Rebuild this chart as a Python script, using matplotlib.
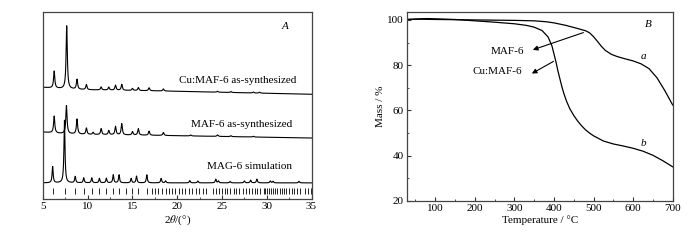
import matplotlib
matplotlib.use("Agg")
import matplotlib.pyplot as plt
import matplotlib.ticker as tkr
import numpy as np

plt.rcParams['font.family'] = ['Liberation Serif', 'DejaVu Serif']
plt.rcParams['mathtext.fontset'] = 'stix'
plt.rcParams['font.size'] = 8

# ---- panel A: XRD patterns (intensity in % of axis height) ----
sim_pos = [6.08, 7.40, 8.60, 9.55, 10.45, 11.30, 12.08, 12.85, 13.50, 14.85, 15.45, 16.60,
           18.20, 18.70, 21.40, 22.30, 24.30, 24.60, 25.90, 27.50, 28.20, 28.90, 30.40, 30.70, 33.60]
sim_int = [8.7, 33.5, 3.4, 2.7, 2.7, 2.4, 2.5, 4.3, 4.3, 2.4, 3.6, 4.3,
           2.4, 1.0, 1.2, 1.0, 2.0, 1.0, 0.8, 1.0, 1.5, 2.0, 1.0, 0.8, 0.8]
sim_base_x = [5, 35]
sim_base_y = [8.6, 8.6]

maf_pos = [6.25, 7.62, 8.80, 9.85, 10.60, 11.50, 12.35, 13.10, 13.80, 15.00, 15.65, 16.85,
           18.45, 21.50, 24.50, 26.00, 28.50]
maf_int = [9.0, 15.0, 8.0, 3.4, 1.2, 3.2, 2.2, 4.5, 6.0, 1.8, 3.4, 2.2,
           1.6, 0.5, 0.8, 0.5, 0.4]
maf_base_x = [5, 7, 10, 18, 35]
maf_base_y = [35.8, 35.0, 34.5, 34.0, 32.6]

cu_pos = [6.25, 7.65, 8.80, 9.85, 11.50, 12.35, 13.10, 13.80, 15.00, 15.65, 16.85, 18.45,
          24.50, 26.00, 28.50, 29.20]
cu_int = [9.1, 33.7, 5.3, 2.7, 1.6, 1.6, 2.7, 3.2, 1.1, 1.6, 1.6, 1.1,
          0.5, 0.5, 0.5, 0.5]
cu_base_x = [5, 7, 10, 18, 35]
cu_base_y = [59.7, 59.0, 58.4, 57.8, 56.0]

# reflection positions (tick row under the simulation)
refl_pos = [6.08, 7.42, 8.60, 9.53, 10.46, 11.28, 12.06, 12.77, 13.51, 14.25, 15.00, 15.66,
            16.59, 17.15, 17.52, 17.89, 18.26, 18.71, 19.08, 19.38, 19.80, 20.15, 20.55, 20.90,
            21.35, 21.70, 22.05, 22.45, 22.85, 23.20, 24.00, 24.30, 24.62, 24.95, 25.30, 25.60,
            25.95, 26.30, 26.60, 26.95, 27.30, 27.65, 28.00, 28.30, 28.65, 28.95, 29.20, 29.65,
            29.85, 30.05, 30.30, 30.50, 30.75, 30.95, 31.20, 31.45, 31.70, 31.95, 32.20, 32.50,
            32.80, 33.10, 33.40, 33.75, 34.30, 34.60, 34.90]

# ---- panel B: TGA ----
temp_a = [28, 60, 100, 150, 200, 250, 300, 350, 380, 400, 430, 460, 480, 490, 500, 510, 520,
          530, 545, 560, 580, 600, 620, 640, 660, 680, 700]
mass_a = [100.2, 100.3, 100.2, 100.1, 100.0, 99.9, 99.8, 99.6, 99.2, 98.7, 97.6, 96.2, 95.2,
          94.3, 92.6, 90.5, 88.3, 86.5, 84.8, 83.8, 82.8, 81.9, 80.6, 78.5, 74.5, 68.8, 62.4]
temp_b = [28, 60, 80, 100, 150, 200, 250, 300, 330, 350, 370, 385, 395, 405, 410, 415, 420,
          425, 432, 440, 450, 460, 470, 480, 490, 500, 525, 550, 575, 600, 625, 650, 675, 700]
mass_b = [100.2, 100.5, 100.6, 100.5, 100.2, 99.6, 99.0, 98.3, 97.6, 96.8, 95.3, 92.5, 88.5,
          81.5, 77.5, 74.0, 70.5, 67.5, 64.0, 60.8, 57.8, 55.3, 53.2, 51.4, 50.0, 48.8, 46.5,
          45.2, 44.3, 43.3, 42.0, 40.2, 37.8, 35.1]


def pattern(x, pos, inten, bx, by, width):
    y = np.interp(x, bx, by)
    for p, h in zip(pos, inten):
        y = y + h / (1 + ((x - p) / (width / 2)) ** 2)
    return y


def style_axes(ax):
    for s in ax.spines.values():
        s.set_color('#444444')
        s.set_linewidth(0.9)
    ax.tick_params(which='both', direction='in', color='#333333', labelsize=8, pad=2)
    ax.tick_params(which='major', length=3)
    ax.tick_params(which='minor', length=1.5)


fig = plt.figure(figsize=(7, 2.4), dpi=100)
axA = fig.add_axes([0.0614, 0.171, 0.3836, 0.779])
axB = fig.add_axes([0.581, 0.1625, 0.380, 0.7875])

xx = np.linspace(5, 35, 3000)
axA.plot(xx, pattern(xx, sim_pos, sim_int, sim_base_x, sim_base_y, 0.14), color='black', lw=0.8)
axA.plot(xx, pattern(xx, maf_pos, maf_int, maf_base_x, maf_base_y, 0.16), color='black', lw=0.8)
axA.plot(xx, pattern(xx, cu_pos, cu_int, cu_base_x, cu_base_y, 0.16), color='black', lw=0.8)
axA.vlines(refl_pos, 2.7, 5.9, color='black', lw=0.6)
axA.set_xlim(5, 35)
axA.set_ylim(0, 100)
axA.set_yticks([])
axA.xaxis.set_major_locator(tkr.MultipleLocator(5))
axA.xaxis.set_minor_locator(tkr.MultipleLocator(2.5))
style_axes(axA)
axA.set_xlabel(r'2$\it{\theta}$/(°)', fontsize=8, labelpad=2)
axA.text(33.3, 63.6, 'Cu:MAF-6 as-synthesized', ha='right', va='center', fontsize=8)
axA.text(32.8, 39.6, 'MAF-6 as-synthesized', ha='right', va='center', fontsize=8)
axA.text(32.8, 17.1, 'MAG-6 simulation', ha='right', va='center', fontsize=8)
axA.text(32.0, 92.5, 'A', style='italic', ha='center', va='center', fontsize=8)

axB.plot(temp_a, mass_a, color='black', lw=0.9)
axB.plot(temp_b, mass_b, color='black', lw=0.9)
axB.set_xlim(28, 700)
axB.set_ylim(20, 103.5)
axB.xaxis.set_major_locator(tkr.MultipleLocator(100))
axB.xaxis.set_minor_locator(tkr.MultipleLocator(50))
axB.yaxis.set_major_locator(tkr.MultipleLocator(20))
axB.yaxis.set_minor_locator(tkr.MultipleLocator(10))
style_axes(axB)
axB.set_xlabel('Temperature / °C', fontsize=8, labelpad=2)
axB.set_ylabel('Mass / %', fontsize=8, labelpad=2)
axB.text(325, 86.0, 'MAF-6', ha='right', va='center', fontsize=8)
axB.text(320, 77.2, 'Cu:MAF-6', ha='right', va='center', fontsize=8)
axB.annotate('', xy=(340, 86.4), xytext=(481, 94.8),
             arrowprops=dict(arrowstyle='-|>', color='black', lw=0.8, mutation_scale=7))
axB.annotate('', xy=(338, 75.7), xytext=(405, 82.3),
             arrowprops=dict(arrowstyle='-|>', color='black', lw=0.8, mutation_scale=7))
axB.text(625, 84.0, 'a', style='italic', ha='center', va='center', fontsize=8)
axB.text(625, 45.5, 'b', style='italic', ha='center', va='center', fontsize=8)
axB.text(638, 97.8, 'B', style='italic', ha='center', va='center', fontsize=8)

fig.savefig('out.png', dpi=100, facecolor='white')
